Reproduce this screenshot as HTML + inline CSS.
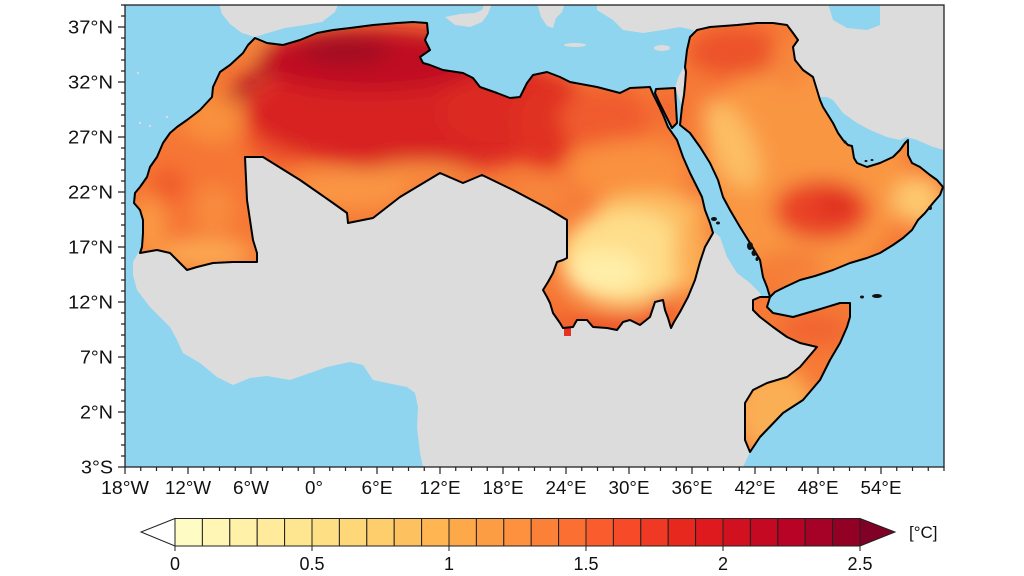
<!DOCTYPE html>
<html><head><meta charset="utf-8"><style>
html,body{margin:0;padding:0;background:#fff;}
svg{display:block;font-family:"Liberation Sans",Arial,sans-serif;}
</style></head><body>
<svg width="1024" height="576" viewBox="0 0 1024 576" xmlns="http://www.w3.org/2000/svg">
<defs>
<clipPath id="frame"><rect x="125" y="5" width="819" height="462"/></clipPath>
<clipPath id="arab">
<path d="M255,38 L267,43 283,45 300,40 317,33 333,30 350,28 373,25 397,23 413,22 427,23 428,33 425,40 430,50 420,57 423,63 430,65 443,70 463,73 473,78 480,87 497,93 510,98 520,97 527,83 533,75 547,72 560,77 570,82 597,87 620,93 630,88 650,87 653,94 659,106 664,117 668,127 677,140 683,157 690,173 697,187 702,197 705,210 710,223 713,233 705,247 700,262 695,280 688,297 680,312 674,322 671,328 668,318 665,310 663,300 655,302 650,317 640,325 630,320 623,322 617,330 607,328 593,327 587,320 577,320 573,327 563,328 560,323 553,313 550,303 547,297 543,290 548,282 553,273 557,262 563,260 567,258 567,220 547,208 513,190 482,175 463,183 440,173 400,197 373,218 348,223 347,213 333,203 300,180 263,157 245,157 247,200 253,240 257,253 257,262 233,262 213,263 197,267 187,270 180,263 170,253 157,250 140,253 142,247 143,233 143,220 140,210 134,203 135,193 140,187 147,177 150,167 157,157 163,143 170,133 177,127 187,120 200,110 212,97 213,87 220,72 230,65 243,53 248,45 Z"/>
<path d="M656,89 L675,88 677,123 672,128 667,118 660,104 655,93 Z"/>
<path d="M697,30 L710,27 737,25 757,23 773,23 787,25 793,33 798,40 793,47 795,60 803,70 813,77 817,90 820,100 823,107 828,115 833,123 838,133 843,140 848,145 852,146 854,158 857,163 867,167 880,163 893,157 900,150 905,143 908,140 908,155 912,163 920,167 930,175 937,180 943,187 940,195 933,203 925,213 918,220 912,230 903,238 893,245 880,253 867,258 850,263 833,270 815,276 800,280 785,287 775,292 770,297 767,287 763,277 760,260 750,243 740,227 730,210 723,197 718,180 710,163 700,147 690,133 680,125 682,107 684,95 685,85 686,72 685,67 687,50 690,37 Z"/>
<path d="M753,300 L760,297 770,297 767,307 773,313 793,317 817,310 840,303 850,303 850,317 847,327 840,343 830,360 820,380 803,400 783,413 760,437 750,452 745,440 745,403 753,390 767,383 787,377 800,367 817,347 800,343 787,337 773,327 760,317 753,310 Z"/>
</clipPath>
<filter id="blur" filterUnits="userSpaceOnUse" x="0" y="0" width="1024" height="576"><feGaussianBlur stdDeviation="10"/></filter>
</defs>

<rect x="0" y="0" width="1024" height="576" fill="#ffffff"/>

<g clip-path="url(#frame)">
  <rect x="125" y="5" width="819" height="462" fill="#8fd5ef"/>
  <g fill="#dcdcdc">
    <path d="M140,250 L133,262 133,275 137,290 150,307 160,317 170,327 177,340 183,353 200,363 217,377 233,385 250,378 267,376 290,380 310,373 327,367 350,362 363,365 373,380 387,383 407,387 415,393 418,407 417,427 420,453 423,467 743,467 750,452 760,437 783,413 803,400 820,380 830,360 840,343 847,327 850,317 850,303 840,303 817,310 793,317 773,313 767,307 770,297 763,300 760,293 750,283 737,273 727,257 720,237 715,233 705,225 567,200 440,160 250,150 Z"/>
    <path d="M597,0 L944,0 944,150 933,147 917,140 907,137 900,140 887,137 870,130 857,123 843,113 833,100 827,97 820,97 810,110 700,40 693,30 680,27 663,30 643,33 623,30 613,20 597,10 Z"/>
    <path d="M218,0 L222,14 230,24 242,33 255,37 268,33 285,28 305,25 322,22 335,12 340,0 Z"/>
    <path d="M445,17 L460,14 475,13 482,10 485,3 492,3 488,14 482,22 470,27 455,25 Z"/>
    <path d="M537,3 L565,3 562,12 556,18 553,28 547,26 541,17 Z"/>
    <ellipse cx="575" cy="45" rx="11" ry="2"/>
    <ellipse cx="662" cy="48" rx="8" ry="3"/>
    <path d="M683,68 L686,72 685,85 684,95 682,107 679,98 675,88 678,78 Z"/>
    <circle cx="138" cy="73" r="1.2"/><circle cx="140" cy="123" r="1.2"/><circle cx="150" cy="126" r="1.2"/><circle cx="167" cy="117" r="1.2"/>
  </g>
  <path d="M827,0 L880,0 880,25 867,30 847,28 833,20 Z" fill="#8fd5ef"/>

  <g clip-path="url(#arab)">
    <rect x="125" y="5" width="819" height="462" fill="rgb(246,122,54)"/>
    <g filter="url(#blur)">
      <ellipse cx="190" cy="200" rx="60" ry="70" fill="rgb(246,118,52)"/>
      <ellipse cx="150" cy="225" rx="14" ry="30" fill="rgb(250,155,68)"/>
      <ellipse cx="168" cy="185" rx="18" ry="18" fill="rgb(240,92,44)"/>
      <ellipse cx="215" cy="210" rx="20" ry="25" fill="rgb(248,140,60)"/>
      <ellipse cx="205" cy="254" rx="48" ry="14" fill="rgb(251,170,82)"/>
      <ellipse cx="212" cy="118" rx="30" ry="24" fill="rgb(248,145,62)"/>
      <ellipse cx="258" cy="50" rx="13" ry="10" fill="rgb(250,155,72)"/>
      <ellipse cx="280" cy="140" rx="35" ry="25" fill="rgb(238,85,42)"/>
      <ellipse cx="420" cy="112" rx="175" ry="58" fill="rgb(216,36,32)"/>
      <ellipse cx="370" cy="60" rx="115" ry="32" fill="rgb(192,15,33)"/>
      <ellipse cx="345" cy="50" rx="45" ry="14" fill="rgb(160,8,36)"/>
      <ellipse cx="248" cy="84" rx="28" ry="7" transform="rotate(-40 248 84)" fill="rgb(168,12,36)"/>
      <ellipse cx="500" cy="112" rx="60" ry="38" fill="rgb(220,42,33)"/>
      <ellipse cx="545" cy="125" rx="30" ry="45" fill="rgb(224,48,34)"/>
      <ellipse cx="605" cy="118" rx="45" ry="32" fill="rgb(240,92,45)"/>
      <ellipse cx="350" cy="190" rx="60" ry="20" fill="rgb(249,150,68)"/>
      <ellipse cx="420" cy="172" rx="50" ry="10" fill="rgb(248,145,63)"/>
      <ellipse cx="630" cy="170" rx="60" ry="30" fill="rgb(249,145,65)"/>
      <ellipse cx="540" cy="195" rx="30" ry="18" fill="rgb(247,135,60)"/>
      <ellipse cx="650" cy="212" rx="55" ry="20" fill="rgb(252,190,98)"/>
      <ellipse cx="625" cy="258" rx="65" ry="48" fill="rgb(254,222,138)"/>
      <ellipse cx="605" cy="272" rx="38" ry="22" fill="rgb(255,238,168)"/>
      <ellipse cx="610" cy="327" rx="62" ry="10" fill="rgb(236,78,38)"/>
      <ellipse cx="660" cy="312" rx="12" ry="18" fill="rgb(238,85,40)"/>
      <ellipse cx="692" cy="255" rx="18" ry="40" fill="rgb(251,175,84)"/>
      <ellipse cx="553" cy="310" rx="12" ry="15" fill="rgb(243,110,48)"/>
      <ellipse cx="668" cy="108" rx="10" ry="18" fill="rgb(240,100,46)"/>
      <ellipse cx="805" cy="165" rx="100" ry="120" fill="rgb(249,150,66)"/>
      <ellipse cx="735" cy="52" rx="48" ry="25" fill="rgb(236,82,42)"/>
      <ellipse cx="790" cy="62" rx="18" ry="28" fill="rgb(247,135,60)"/>
      <ellipse cx="700" cy="92" rx="16" ry="18" fill="rgb(245,122,55)"/>
      <ellipse cx="732" cy="145" rx="22" ry="48" transform="rotate(-25 732 145)" fill="rgb(252,190,100)"/>
      <ellipse cx="822" cy="210" rx="48" ry="30" fill="rgb(233,66,38)"/>
      <ellipse cx="835" cy="205" rx="20" ry="12" fill="rgb(222,45,33)"/>
      <ellipse cx="918" cy="200" rx="25" ry="25" fill="rgb(253,200,110)"/>
      <ellipse cx="790" cy="265" rx="35" ry="14" fill="rgb(245,125,55)"/>
      <ellipse cx="815" cy="330" rx="35" ry="15" fill="rgb(240,100,48)"/>
      <ellipse cx="775" cy="412" rx="40" ry="45" fill="rgb(251,175,85)"/>
    </g>
  </g>
  <rect x="564" y="328" width="7" height="8" fill="rgb(230,50,35)"/>

  <g fill="none" stroke="#000" stroke-width="2" stroke-linejoin="round">
    <path d="M255,38 L267,43 283,45 300,40 317,33 333,30 350,28 373,25 397,23 413,22 427,23 428,33 425,40 430,50 420,57 423,63 430,65 443,70 463,73 473,78 480,87 497,93 510,98 520,97 527,83 533,75 547,72 560,77 570,82 597,87 620,93 630,88 650,87 653,94 659,106 664,117 668,127 677,140 683,157 690,173 697,187 702,197 705,210 710,223 713,233 705,247 700,262 695,280 688,297 680,312 674,322 671,328 668,318 665,310 663,300 655,302 650,317 640,325 630,320 623,322 617,330 607,328 593,327 587,320 577,320 573,327 563,328 560,323 553,313 550,303 547,297 543,290 548,282 553,273 557,262 563,260 567,258 567,220 547,208 513,190 482,175 463,183 440,173 400,197 373,218 348,223 347,213 333,203 300,180 263,157 245,157 247,200 253,240 257,253 257,262 233,262 213,263 197,267 187,270 180,263 170,253 157,250 140,253 142,247 143,233 143,220 140,210 134,203 135,193 140,187 147,177 150,167 157,157 163,143 170,133 177,127 187,120 200,110 212,97 213,87 220,72 230,65 243,53 248,45 Z"/>
    <path d="M656,89 L675,88 677,123 672,128 667,118 660,104 655,93 Z"/>
    <path d="M697,30 L710,27 737,25 757,23 773,23 787,25 793,33 798,40 793,47 795,60 803,70 813,77 817,90 820,100 823,107 828,115 833,123 838,133 843,140 848,145 852,146 854,158 857,163 867,167 880,163 893,157 900,150 905,143 908,140 908,155 912,163 920,167 930,175 937,180 943,187 940,195 933,203 925,213 918,220 912,230 903,238 893,245 880,253 867,258 850,263 833,270 815,276 800,280 785,287 775,292 770,297 767,287 763,277 760,260 750,243 740,227 730,210 723,197 718,180 710,163 700,147 690,133 680,125 682,107 684,95 685,85 686,72 685,67 687,50 690,37 Z"/>
    <path d="M753,300 L760,297 770,297 767,307 773,313 793,317 817,310 840,303 850,303 850,317 847,327 840,343 830,360 820,380 803,400 783,413 760,437 750,452 745,440 745,403 753,390 767,383 787,377 800,367 817,347 800,343 787,337 773,327 760,317 753,310 Z"/>
  </g>
  <g fill="#111">
    <ellipse cx="714" cy="219" rx="3" ry="2"/><ellipse cx="718" cy="223" rx="2" ry="1.5"/>
    <ellipse cx="750" cy="246" rx="3" ry="4"/><ellipse cx="754" cy="253" rx="2.5" ry="3"/><ellipse cx="757" cy="259" rx="1.5" ry="2"/>
    <ellipse cx="845" cy="142" rx="1.5" ry="1.5"/><ellipse cx="866" cy="161" rx="1.5" ry="1"/><ellipse cx="872" cy="160" rx="1.5" ry="1"/>
    <ellipse cx="862" cy="297" rx="2" ry="1.5"/><ellipse cx="877" cy="296" rx="5" ry="2"/>
    <ellipse cx="930" cy="208" rx="2" ry="2"/>
  </g>
</g>

<rect x="125" y="5" width="819" height="462" fill="none" stroke="#222" stroke-width="1.3"/>

<g stroke="#222" stroke-width="1.2">
  <path d="M118,27H125M118,82H125M118,137H125M118,192H125M118,247H125M118,302H125M118,357H125M118,412H125M118,467H125"/>
  <path d="M121,5H125M121,16H125M121,38H125M121,49H125M121,60H125M121,71H125M121,93H125M121,104H125M121,115H125M121,126H125M121,148H125M121,159H125M121,170H125M121,181H125M121,203H125M121,214H125M121,225H125M121,236H125M121,258H125M121,269H125M121,280H125M121,291H125M121,313H125M121,324H125M121,335H125M121,346H125M121,368H125M121,379H125M121,390H125M121,401H125M121,423H125M121,434H125M121,445H125M121,456H125"/>
  <path d="M125,467V474M188,467V474M251,467V474M314,467V474M377,467V474M440,467V474M503,467V474M566,467V474M629,467V474M692,467V474M755,467V474M818,467V474M881,467V474"/>
  <path d="M140.75,467V471M156.5,467V471M172.25,467V471M203.75,467V471M219.5,467V471M235.25,467V471M266.75,467V471M282.5,467V471M298.25,467V471M329.75,467V471M345.5,467V471M361.25,467V471M392.75,467V471M408.5,467V471M424.25,467V471M455.75,467V471M471.5,467V471M487.25,467V471M518.75,467V471M534.5,467V471M550.25,467V471M581.75,467V471M597.5,467V471M613.25,467V471M644.75,467V471M660.5,467V471M676.25,467V471M707.75,467V471M723.5,467V471M739.25,467V471M770.75,467V471M786.5,467V471M802.25,467V471M833.75,467V471M849.5,467V471M865.25,467V471M896.75,467V471M912.5,467V471M928.25,467V471M944,467V471"/>
</g>

<g font-size="18" fill="#111" text-anchor="end">
  <text x="113" y="33.5" textLength="45" lengthAdjust="spacingAndGlyphs">37°N</text>
  <text x="113" y="88.5" textLength="45" lengthAdjust="spacingAndGlyphs">32°N</text>
  <text x="113" y="143.5" textLength="45" lengthAdjust="spacingAndGlyphs">27°N</text>
  <text x="113" y="198.5" textLength="45" lengthAdjust="spacingAndGlyphs">22°N</text>
  <text x="113" y="253.5" textLength="45" lengthAdjust="spacingAndGlyphs">17°N</text>
  <text x="113" y="308.5" textLength="45" lengthAdjust="spacingAndGlyphs">12°N</text>
  <text x="113" y="363.5" textLength="33" lengthAdjust="spacingAndGlyphs">7°N</text>
  <text x="113" y="418.5" textLength="33" lengthAdjust="spacingAndGlyphs">2°N</text>
  <text x="113" y="473.5" textLength="32" lengthAdjust="spacingAndGlyphs">3°S</text>
</g>

<g font-size="18" fill="#111" text-anchor="middle">
  <text x="125" y="494" textLength="48" lengthAdjust="spacingAndGlyphs">18°W</text>
  <text x="188" y="494" textLength="46" lengthAdjust="spacingAndGlyphs">12°W</text>
  <text x="251" y="494" textLength="36" lengthAdjust="spacingAndGlyphs">6°W</text>
  <text x="314" y="494" textLength="18" lengthAdjust="spacingAndGlyphs">0°</text>
  <text x="377" y="494" textLength="31" lengthAdjust="spacingAndGlyphs">6°E</text>
  <text x="440" y="494" textLength="41" lengthAdjust="spacingAndGlyphs">12°E</text>
  <text x="503" y="494" textLength="41" lengthAdjust="spacingAndGlyphs">18°E</text>
  <text x="566" y="494" textLength="41" lengthAdjust="spacingAndGlyphs">24°E</text>
  <text x="629" y="494" textLength="41" lengthAdjust="spacingAndGlyphs">30°E</text>
  <text x="692" y="494" textLength="41" lengthAdjust="spacingAndGlyphs">36°E</text>
  <text x="755" y="494" textLength="41" lengthAdjust="spacingAndGlyphs">42°E</text>
  <text x="818" y="494" textLength="41" lengthAdjust="spacingAndGlyphs">48°E</text>
  <text x="881" y="494" textLength="41" lengthAdjust="spacingAndGlyphs">54°E</text>
</g>

<g stroke="#222" stroke-width="1">
  <polygon points="175,518.5 141,532 175,546" fill="#ffffff"/>
  <rect x="175" y="518.5" width="27.4" height="27.5" fill="rgb(255,251,196)"/>
  <rect x="202.4" y="518.5" width="27.4" height="27.5" fill="rgb(255,246,182)"/>
  <rect x="229.8" y="518.5" width="27.4" height="27.5" fill="rgb(255,241,168)"/>
  <rect x="257.2" y="518.5" width="27.4" height="27.5" fill="rgb(255,235,155)"/>
  <rect x="284.6" y="518.5" width="27.4" height="27.5" fill="rgb(254,229,144)"/>
  <rect x="312" y="518.5" width="27.4" height="27.5" fill="rgb(254,223,132)"/>
  <rect x="339.4" y="518.5" width="27.4" height="27.5" fill="rgb(254,215,120)"/>
  <rect x="366.8" y="518.5" width="27.4" height="27.5" fill="rgb(254,205,108)"/>
  <rect x="394.2" y="518.5" width="27.4" height="27.5" fill="rgb(254,193,95)"/>
  <rect x="421.6" y="518.5" width="27.4" height="27.5" fill="rgb(254,181,82)"/>
  <rect x="449" y="518.5" width="27.4" height="27.5" fill="rgb(254,169,73)"/>
  <rect x="476.4" y="518.5" width="27.4" height="27.5" fill="rgb(253,157,67)"/>
  <rect x="503.8" y="518.5" width="27.4" height="27.5" fill="rgb(253,145,62)"/>
  <rect x="531.2" y="518.5" width="27.4" height="27.5" fill="rgb(252,129,56)"/>
  <rect x="558.6" y="518.5" width="27.4" height="27.5" fill="rgb(251,111,51)"/>
  <rect x="586" y="518.5" width="27.4" height="27.5" fill="rgb(250,92,46)"/>
  <rect x="613.4" y="518.5" width="27.4" height="27.5" fill="rgb(246,74,40)"/>
  <rect x="640.8" y="518.5" width="27.4" height="27.5" fill="rgb(239,57,36)"/>
  <rect x="668.2" y="518.5" width="27.4" height="27.5" fill="rgb(231,40,31)"/>
  <rect x="695.6" y="518.5" width="27.4" height="27.5" fill="rgb(222,26,30)"/>
  <rect x="723" y="518.5" width="27.4" height="27.5" fill="rgb(210,17,32)"/>
  <rect x="750.4" y="518.5" width="27.4" height="27.5" fill="rgb(198,9,35)"/>
  <rect x="777.8" y="518.5" width="27.4" height="27.5" fill="rgb(184,3,38)"/>
  <rect x="805.2" y="518.5" width="27.4" height="27.5" fill="rgb(166,1,38)"/>
  <rect x="832.6" y="518.5" width="27.4" height="27.5" fill="rgb(147,0,38)"/>
  <polygon points="860,518.5 895,532 860,546" fill="rgb(128,0,38)"/>
  <path d="M175,546V551M312,546V551M449,546V551M586,546V551M723,546V551M860,546V551"/>
</g>
<g font-size="18" fill="#111" text-anchor="middle">
  <text x="175" y="570">0</text>
  <text x="312" y="570">0.5</text>
  <text x="449" y="570">1</text>
  <text x="586" y="570">1.5</text>
  <text x="723" y="570">2</text>
  <text x="860" y="570">2.5</text>
</g>
<text x="909" y="538" font-size="17" fill="#111">[°C]</text>
</svg>
</body></html>
